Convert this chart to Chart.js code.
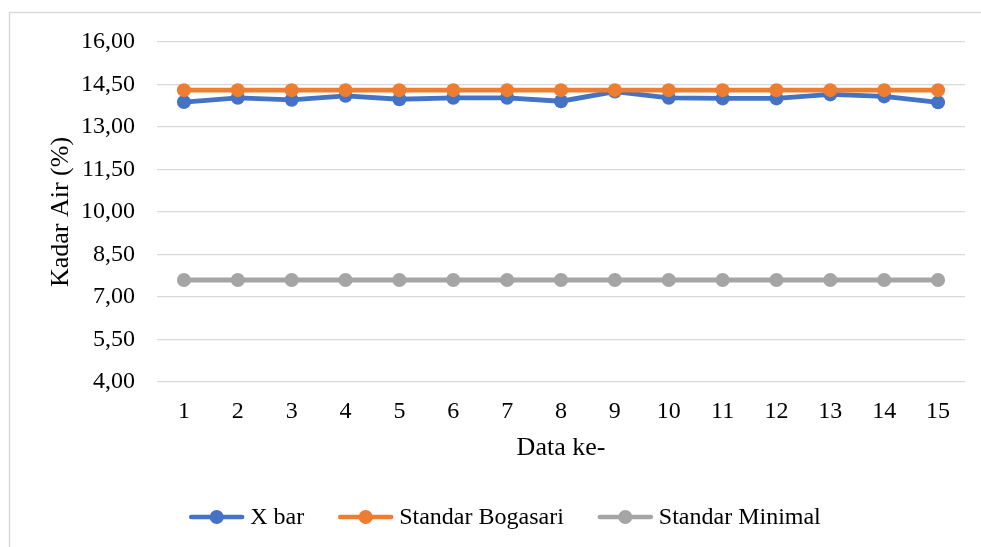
<!DOCTYPE html>
<html>
<head>
<meta charset="utf-8">
<script src="https://cdn.jsdelivr.net/npm/chart.js@4"></script>
<style>
  html, body { margin: 0; padding: 0; background: #fff; }
  #wrap { position: relative; width: 981px; height: 547px; }
</style>
</head>
<body>
<div id="wrap"><canvas id="chart" width="981" height="547"></canvas></div>
<script>
// Sample index (Data ke-)
const categories = ['1', '2', '3', '4', '5', '6', '7', '8', '9', '10', '11', '12', '13', '14', '15'];
// Average moisture content per sample (%)
const xBar = [13.88, 14.03, 13.96, 14.10, 13.98, 14.03, 14.03, 13.91, 14.25, 14.03, 14.01, 14.01, 14.15, 14.08, 13.87];
// Reference limits (%)
const standarBogasari = [14.3, 14.3, 14.3, 14.3, 14.3, 14.3, 14.3, 14.3, 14.3, 14.3, 14.3, 14.3, 14.3, 14.3, 14.3];
const standarMinimal = [7.6, 7.6, 7.6, 7.6, 7.6, 7.6, 7.6, 7.6, 7.6, 7.6, 7.6, 7.6, 7.6, 7.6, 7.6];
// Y axis range and step
const yMin = 4;
const yMax = 16;
const yStep = 1.5;

const seriesNames = ['X bar', 'Standar Bogasari', 'Standar Minimal'];
const colors = ['#4472C4', '#ED7D31', '#A5A5A5'];

const FONT = '"Liberation Serif", "Times New Roman", serif';
const FS = 24;
const TITLE_FS = 26;

// Light frame around the chart
const framePlugin = {
  id: 'frame',
  beforeDraw(chart) {
    const ctx = chart.ctx;
    ctx.save();
    ctx.strokeStyle = '#d9d9d9';
    ctx.lineWidth = 1.5;
    ctx.strokeRect(9.5, 12.5, 992, 600);
    ctx.restore();
  }
};

// Legend with a line-and-marker swatch for each series
const lineLegendPlugin = {
  id: 'lineLegend',
  afterDraw(chart) {
    const ctx = chart.ctx;
    const sets = chart.data.datasets;
    const swatch = 55, textGap = 6, itemGap = 34;
    const cy = 517, centerX = 505;
    ctx.save();
    ctx.font = FS + 'px ' + FONT;
    const widths = sets.map(d => swatch + textGap + ctx.measureText(d.label).width);
    const total = widths.reduce((a, b) => a + b, 0) + itemGap * (sets.length - 1);
    let x = centerX - total / 2;
    sets.forEach((d, i) => {
      ctx.strokeStyle = d.borderColor;
      ctx.lineWidth = 4.5;
      ctx.lineCap = 'round';
      ctx.beginPath();
      ctx.moveTo(x + 2, cy);
      ctx.lineTo(x + swatch - 2, cy);
      ctx.stroke();
      ctx.fillStyle = d.borderColor;
      ctx.beginPath();
      ctx.arc(x + swatch / 2, cy, 7, 0, Math.PI * 2);
      ctx.fill();
      ctx.fillStyle = '#000';
      ctx.textBaseline = 'middle';
      ctx.textAlign = 'left';
      ctx.fillText(d.label, x + swatch + textGap, cy + 1);
      x += widths[i] + itemGap;
    });
    ctx.restore();
  }
};

const makeSet = (i, data, order) => ({
  label: seriesNames[i],
  data: data,
  borderColor: colors[i],
  backgroundColor: colors[i],
  borderWidth: 4.8,
  pointRadius: 7,
  pointHoverRadius: 7,
  pointBorderWidth: 0,
  pointBackgroundColor: colors[i],
  tension: 0,
  fill: false,
  order: order
});

new Chart(document.getElementById('chart'), {
  type: 'line',
  data: {
    labels: categories,
    datasets: [
      makeSet(0, xBar, 3),
      makeSet(1, standarBogasari, 2),
      makeSet(2, standarMinimal, 1)
    ]
  },
  options: {
    responsive: false,
    animation: false,
    layout: { padding: { top: 42, right: 16, bottom: 80, left: 0 } },
    plugins: {
      legend: { display: false },
      tooltip: { enabled: false }
    },
    scales: {
      x: {
        offset: true,
        grid: { display: false, drawTicks: false },
        border: { display: false },
        ticks: { color: '#000', font: { family: FONT, size: FS }, padding: 15, maxRotation: 0, autoSkip: false },
        title: { display: true, text: 'Data ke-', color: '#000', font: { family: FONT, size: TITLE_FS }, padding: { top: 0, bottom: 3 } },
        afterFit(scale) { scale.height = 85; }
      },
      y: {
        min: yMin,
        max: yMax,
        grid: { color: '#d9d9d9', lineWidth: 1.3, drawTicks: false },
        border: { display: false },
        ticks: {
          stepSize: yStep,
          color: '#000',
          font: { family: FONT, size: FS },
          padding: 22,
          callback: v => v.toFixed(2).replace('.', ',')
        },
        title: { display: true, text: 'Kadar Air (%)', color: '#000', font: { family: FONT, size: TITLE_FS }, padding: { top: 46, bottom: 0 } },
        afterFit(scale) { scale.width = 157; }
      }
    }
  },
  plugins: [framePlugin, lineLegendPlugin]
});
</script>
</body>
</html>
